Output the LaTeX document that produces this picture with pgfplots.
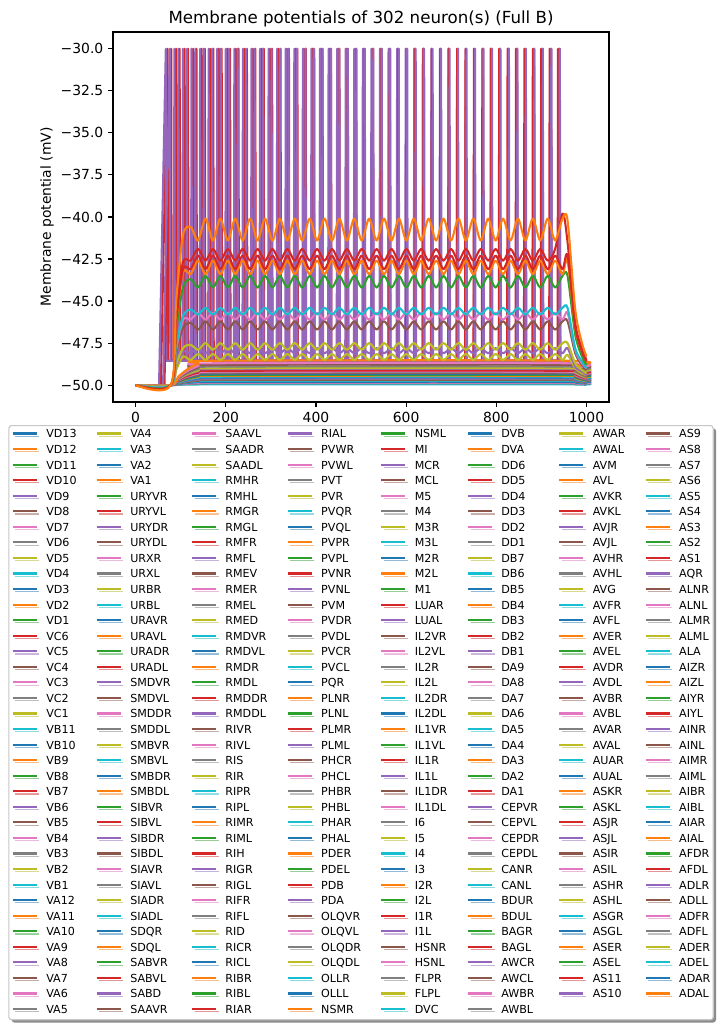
\documentclass[border=0pt]{standalone}
\usepackage{fontspec}
\setmainfont{DejaVu Sans}
\usepackage{pgfplots}
\pgfplotsset{compat=1.18}
\usepackage{pgfplotstable}
\usetikzlibrary{shadows}
\definecolor{tab0}{HTML}{1F77B4}
\definecolor{tab1}{HTML}{FF7F0E}
\definecolor{tab2}{HTML}{2CA02C}
\definecolor{tab3}{HTML}{D62728}
\definecolor{tab4}{HTML}{9467BD}
\definecolor{tab5}{HTML}{8C564B}
\definecolor{tab6}{HTML}{E377C2}
\definecolor{tab7}{HTML}{7F7F7F}
\definecolor{tab8}{HTML}{BCBD22}
\definecolor{tab9}{HTML}{17BECF}

% oscillating traces (peaks / troughs)
\pgfplotstableread{
t o1 r1 r2 o2 g1 c1 p1 b1 y1 u1 y2
0 -50 -50 -50 -50 -50 -50 -50 -50 -50 -50 -50
78 -50 -50 -50 -50 -50 -50 -50 -50 -50 -50 -50
90 -45.0 -46.0 -46.2 -46.3 -46.8 -47.7 -47.9 -48.1 -48.8 -48.9 -49.1
105 -41.1 -42.7 -43.1 -43.3 -44.2 -45.9 -46.1 -46.6 -47.8 -48.0 -48.3
122 -40.6 -42.6 -43.1 -43.4 -43.7 -45.5 -46.1 -46.3 -47.6 -48.1 -48.5
138.5 -41.4 -41.9 -42.3 -42.6 -44.2 -45.8 -45.7 -46.7 -47.9 -47.8 -48.15
155 -40.1 -42.6 -43.1 -43.4 -43.5 -45.4 -46.1 -46.2 -47.5 -48.1 -48.5
171.5 -41.4 -41.9 -42.3 -42.6 -44.2 -45.8 -45.7 -46.7 -47.9 -47.8 -48.15
188 -40.1 -42.6 -43.1 -43.4 -43.5 -45.4 -46.1 -46.2 -47.5 -48.1 -48.5
204.5 -41.4 -41.9 -42.3 -42.6 -44.2 -45.8 -45.7 -46.7 -47.9 -47.8 -48.15
221 -40.1 -42.6 -43.1 -43.4 -43.5 -45.4 -46.1 -46.2 -47.5 -48.1 -48.5
237.5 -41.4 -41.9 -42.3 -42.6 -44.2 -45.8 -45.7 -46.7 -47.9 -47.8 -48.15
254 -40.1 -42.6 -43.1 -43.4 -43.5 -45.4 -46.1 -46.2 -47.5 -48.1 -48.5
270.5 -41.4 -41.9 -42.3 -42.6 -44.2 -45.8 -45.7 -46.7 -47.9 -47.8 -48.15
287 -40.1 -42.6 -43.1 -43.4 -43.5 -45.4 -46.1 -46.2 -47.5 -48.1 -48.5
303.5 -41.4 -41.9 -42.3 -42.6 -44.2 -45.8 -45.7 -46.7 -47.9 -47.8 -48.15
320 -40.1 -42.6 -43.1 -43.4 -43.5 -45.4 -46.1 -46.2 -47.5 -48.1 -48.5
336.5 -41.4 -41.9 -42.3 -42.6 -44.2 -45.8 -45.7 -46.7 -47.9 -47.8 -48.15
353 -40.1 -42.6 -43.1 -43.4 -43.5 -45.4 -46.1 -46.2 -47.5 -48.1 -48.5
369.5 -41.4 -41.9 -42.3 -42.6 -44.2 -45.8 -45.7 -46.7 -47.9 -47.8 -48.15
386 -40.1 -42.6 -43.1 -43.4 -43.5 -45.4 -46.1 -46.2 -47.5 -48.1 -48.5
402.5 -41.4 -41.9 -42.3 -42.6 -44.2 -45.8 -45.7 -46.7 -47.9 -47.8 -48.15
419 -40.1 -42.6 -43.1 -43.4 -43.5 -45.4 -46.1 -46.2 -47.5 -48.1 -48.5
435.5 -41.4 -41.9 -42.3 -42.6 -44.2 -45.8 -45.7 -46.7 -47.9 -47.8 -48.15
452 -40.1 -42.6 -43.1 -43.4 -43.5 -45.4 -46.1 -46.2 -47.5 -48.1 -48.5
468.5 -41.4 -41.9 -42.3 -42.6 -44.2 -45.8 -45.7 -46.7 -47.9 -47.8 -48.15
485 -40.1 -42.6 -43.1 -43.4 -43.5 -45.4 -46.1 -46.2 -47.5 -48.1 -48.5
501.5 -41.4 -41.9 -42.3 -42.6 -44.2 -45.8 -45.7 -46.7 -47.9 -47.8 -48.15
518 -40.1 -42.6 -43.1 -43.4 -43.5 -45.4 -46.1 -46.2 -47.5 -48.1 -48.5
534.5 -41.4 -41.9 -42.3 -42.6 -44.2 -45.8 -45.7 -46.7 -47.9 -47.8 -48.15
551 -40.1 -42.6 -43.1 -43.4 -43.5 -45.4 -46.1 -46.2 -47.5 -48.1 -48.5
567.5 -41.4 -41.9 -42.3 -42.6 -44.2 -45.8 -45.7 -46.7 -47.9 -47.8 -48.15
584 -40.1 -42.6 -43.1 -43.4 -43.5 -45.4 -46.1 -46.2 -47.5 -48.1 -48.5
600.5 -41.4 -41.9 -42.3 -42.6 -44.2 -45.8 -45.7 -46.7 -47.9 -47.8 -48.15
617 -40.1 -42.6 -43.1 -43.4 -43.5 -45.4 -46.1 -46.2 -47.5 -48.1 -48.5
633.5 -41.4 -41.9 -42.3 -42.6 -44.2 -45.8 -45.7 -46.7 -47.9 -47.8 -48.15
650 -40.1 -42.6 -43.1 -43.4 -43.5 -45.4 -46.1 -46.2 -47.5 -48.1 -48.5
666.5 -41.4 -41.9 -42.3 -42.6 -44.2 -45.8 -45.7 -46.7 -47.9 -47.8 -48.15
683 -40.1 -42.6 -43.1 -43.4 -43.5 -45.4 -46.1 -46.2 -47.5 -48.1 -48.5
699.5 -41.4 -41.9 -42.3 -42.6 -44.2 -45.8 -45.7 -46.7 -47.9 -47.8 -48.15
716 -40.1 -42.6 -43.1 -43.4 -43.5 -45.4 -46.1 -46.2 -47.5 -48.1 -48.5
732.5 -41.4 -41.9 -42.3 -42.6 -44.2 -45.8 -45.7 -46.7 -47.9 -47.8 -48.15
749 -40.1 -42.6 -43.1 -43.4 -43.5 -45.4 -46.1 -46.2 -47.5 -48.1 -48.5
765.5 -41.4 -41.9 -42.3 -42.6 -44.2 -45.8 -45.7 -46.7 -47.9 -47.8 -48.15
782 -40.1 -42.6 -43.1 -43.4 -43.5 -45.4 -46.1 -46.2 -47.5 -48.1 -48.5
798.5 -41.4 -41.9 -42.3 -42.6 -44.2 -45.8 -45.7 -46.7 -47.9 -47.8 -48.15
815 -40.1 -42.6 -43.1 -43.4 -43.5 -45.4 -46.1 -46.2 -47.5 -48.1 -48.5
831.5 -41.4 -41.9 -42.3 -42.6 -44.2 -45.8 -45.7 -46.7 -47.9 -47.8 -48.15
848 -40.1 -42.6 -43.1 -43.4 -43.5 -45.4 -46.1 -46.2 -47.5 -48.1 -48.5
864.5 -41.4 -41.9 -42.3 -42.6 -44.2 -45.8 -45.7 -46.7 -47.9 -47.8 -48.15
881 -40.1 -42.6 -43.1 -43.4 -43.5 -45.4 -46.1 -46.2 -47.5 -48.1 -48.5
897.5 -41.4 -41.9 -42.3 -42.6 -44.2 -45.8 -45.7 -46.7 -47.9 -47.8 -48.15
914 -40.1 -42.6 -43.1 -43.4 -43.5 -45.4 -46.1 -46.2 -47.5 -48.1 -48.5
930.5 -41.4 -41.9 -42.3 -42.6 -44.2 -45.8 -45.7 -46.7 -47.9 -47.8 -48.15
947 -40.1 -39.8 -43.1 -43.4 -43.5 -45.4 -46.1 -46.2 -47.5 -48.1 -48.5
958 -40.2 -41.5 -42.3 -42.6 -43.5 -45.4 -45.7 -46.2 -47.5 -47.8 -48.2
975 -45.5 -46.3 -46.5 -46.6 -47.0 -47.8 -47.9 -48.1 -48.7 -48.9 -49.0
990 -47.5 -47.8 -48.0 -48.0 -48.3 -48.6 -48.7 -48.8 -49.1 -49.2 -49.3
1000 -48.3 -48.5 -48.6 -48.6 -48.8 -49.0 -49.0 -49.1 -49.3 -49.4 -49.4
}\osc

% slowly rising, flat traces
\pgfplotstableread{
t f1 f2 f3 f4 f5 f6 f7 f8 f9 f10 f11 f12 f13 f14 f15 f16 f17 f18 f19 f20 f21 f22 f23
0 -50 -50 -50 -50 -50 -50 -50 -50 -50 -50 -50 -50 -50 -50 -50 -50 -50 -50 -50 -50 -50 -50 -50
78 -50 -50 -50 -50 -50 -50 -50 -50 -50 -50 -50 -50 -50 -50 -50 -50 -50 -50 -50 -50 -50 -50 -50
95 -49.49 -49.55 -49.58 -49.62 -49.65 -49.67 -49.70 -49.72 -49.74 -49.76 -49.77 -49.79 -49.81 -49.83 -49.84 -49.86 -49.88 -49.90 -49.91 -49.93 -49.95 -49.97 -49.98
115 -49.06 -49.16 -49.22 -49.29 -49.35 -49.38 -49.45 -49.48 -49.51 -49.55 -49.58 -49.61 -49.64 -49.68 -49.71 -49.74 -49.77 -49.81 -49.84 -49.87 -49.90 -49.94 -49.97
140 -48.72 -48.86 -48.94 -49.03 -49.12 -49.16 -49.25 -49.30 -49.34 -49.38 -49.43 -49.47 -49.52 -49.56 -49.60 -49.65 -49.69 -49.74 -49.78 -49.82 -49.87 -49.91 -49.96
175 -48.55 -48.7 -48.8 -48.9 -49.0 -49.05 -49.15 -49.2 -49.25 -49.3 -49.35 -49.4 -49.45 -49.5 -49.55 -49.6 -49.65 -49.7 -49.75 -49.8 -49.85 -49.9 -49.95
955 -48.55 -48.7 -48.8 -48.9 -49.0 -49.05 -49.15 -49.2 -49.25 -49.3 -49.35 -49.4 -49.45 -49.5 -49.55 -49.6 -49.65 -49.7 -49.75 -49.8 -49.85 -49.9 -49.95
975 -48.91 -49.03 -49.10 -49.18 -49.25 -49.29 -49.36 -49.40 -49.44 -49.48 -49.51 -49.55 -49.59 -49.63 -49.66 -49.70 -49.74 -49.78 -49.81 -49.85 -49.89 -49.93 -49.96
990 -49.20 -49.29 -49.34 -49.40 -49.45 -49.48 -49.53 -49.56 -49.59 -49.62 -49.64 -49.67 -49.70 -49.73 -49.75 -49.78 -49.81 -49.84 -49.86 -49.89 -49.92 -49.95 -49.97
1000 -49.35 -49.42 -49.46 -49.51 -49.55 -49.57 -49.62 -49.64 -49.66 -49.69 -49.71 -49.73 -49.75 -49.78 -49.80 -49.82 -49.84 -49.87 -49.89 -49.91 -49.93 -49.96 -49.98
}\flat

\newcommand{\LE}[2]{\pgfmathtruncatemacro{\ci}{mod(#1,10)}%
  \edef\tmp{\noexpand\addlegendimage{tab\ci}}\tmp\addlegendentry{#2}}
\newcommand{\Lrow}[9]{\LE{#1}{#2}\LE{#1+38}{#3}\LE{#1+76}{#4}\LE{#1+114}{#5}%
  \LE{#1+152}{#6}\LE{#1+190}{#7}\LE{#1+228}{#8}\LE{#1+265}{#9}}
\newcommand{\Lsix}[7]{\LE{#1}{#2}\LE{#1+38}{#3}\LE{#1+76}{#4}\LE{#1+114}{#5}%
  \LE{#1+152}{#6}\LE{#1+190}{#7}}

\pgfplotsset{dp/.style={forget plot, line width=1.5pt, line join=round}}

\begin{document}
\begin{tikzpicture}
\begin{axis}[
  scale only axis, width=357.1pt, height=266.4pt,
  xmin=-50, xmax=1050, ymin=-51, ymax=-29,
  xtick={0,200,400,600,800,1000},
  xticklabels={0,200,400,600,800,1000},
  ytick={-50,-47.5,-45,-42.5,-40,-37.5,-35,-32.5,-30},
  yticklabels={−50.0,−47.5,−45.0,−42.5,−40.0,−37.5,−35.0,−32.5,−30.0},
  tick pos=left, tick align=outside, major tick length=3.5pt,
  every tick/.style={black, line width=0.8pt},
  axis line style={line width=0.8pt},
  tick label style={font=\fontsize{10}{12}\selectfont},
  title={Membrane potentials of 302 neuron(s) (Full B)},
  every axis title/.style={at={(0.5,1)}, anchor=base, yshift=5.8pt, font=\fontsize{12}{14.4}\selectfont},
  ylabel={Membrane potential (mV)},
  every axis y label/.style={at={(axis description cs:-0.133,0.5)}, rotate=90, anchor=center, font=\fontsize{10}{12}\selectfont},
  legend columns=8,
  legend cell align=left,
  legend image code/.code={\draw[#1, line width=1.5pt] (0pt,1pt) -- (17.3pt,1pt); \path (23.8pt,0pt);},
  legend style={at={(0.5,-0.0623)}, anchor=north, draw=black!22, line width=0.8pt, rounded corners=2pt, fill=white,
    drop shadow={shadow xshift=2pt, shadow yshift=-2pt, fill=black, opacity=0.45},
    font=\fontsize{8}{9.6}\selectfont, inner xsep=2pt, inner ysep=2.9pt, row sep=3.6pt,
    nodes={inner sep=0pt, text height=6pt, text depth=1.6pt},
    /tikz/every even column/.append style={column sep=13.7pt}},
]
% spiking neurons
\addplot[dp, tab3] coordinates {(0,-50)(56,-50)(71,-30)(72,-48.55)
(88.9,-48.55)(89.9,-30)(90.9,-48.55) (107.8,-48.55)(108.8,-30)(109.8,-48.55) (126.7,-48.55)(127.7,-30)(128.7,-48.55)
(145.6,-48.55)(146.6,-30)(147.6,-48.55) (164.5,-48.55)(165.5,-30)(166.5,-48.55) (183.4,-48.55)(184.4,-30)(185.4,-48.55)
(202.3,-48.55)(203.3,-30)(204.3,-48.55) (221.2,-48.55)(222.2,-30)(223.2,-48.55) (240.1,-48.55)(241.1,-30)(242.1,-48.55)
(259,-48.55)(260,-30)(261,-48.55) (277.9,-48.55)(278.9,-30)(279.9,-48.55) (296.8,-48.55)(297.8,-30)(298.8,-48.55)
(315.7,-48.55)(316.7,-30)(317.7,-48.55) (334.6,-48.55)(335.6,-30)(336.6,-48.55) (353.5,-48.55)(354.5,-30)(355.5,-48.55)
(372.4,-48.55)(373.4,-30)(374.4,-48.55) (391.3,-48.55)(392.3,-30)(393.3,-48.55) (410.2,-48.55)(411.2,-30)(412.2,-48.55)
(429.1,-48.55)(430.1,-30)(431.1,-48.55) (448,-48.55)(449,-30)(450,-48.55) (466.9,-48.55)(467.9,-30)(468.9,-48.55)
(485.8,-48.55)(486.8,-30)(487.8,-48.55) (504.7,-48.55)(505.7,-30)(506.7,-48.55) (523.6,-48.55)(524.6,-30)(525.6,-48.55)
(542.5,-48.55)(543.5,-30)(544.5,-48.55) (561.4,-48.55)(562.4,-30)(563.4,-48.55) (580.3,-48.55)(581.3,-30)(582.3,-48.55)
(599.2,-48.55)(600.2,-30)(601.2,-48.55) (618.1,-48.55)(619.1,-30)(620.1,-48.55) (637,-48.55)(638,-30)(639,-48.55)
(655.9,-48.55)(656.9,-30)(657.9,-48.55) (674.8,-48.55)(675.8,-30)(676.8,-48.55) (693.7,-48.55)(694.7,-30)(695.7,-48.55)
(712.6,-48.55)(713.6,-30)(714.6,-48.55) (731.5,-48.55)(732.5,-30)(733.5,-48.55) (750.4,-48.55)(751.4,-30)(752.4,-48.55)
(769.3,-48.55)(770.3,-30)(771.3,-48.55) (788.2,-48.55)(789.2,-30)(790.2,-48.55) (807.1,-48.55)(808.1,-30)(809.1,-48.55)
(826,-48.55)(827,-30)(828,-48.55) (844.9,-48.55)(845.9,-30)(846.9,-48.55) (863.8,-48.55)(864.8,-30)(865.8,-48.55)
(882.7,-48.55)(883.7,-30)(884.7,-48.55) (901.6,-48.55)(902.6,-30)(903.6,-48.55) (920.5,-48.55)(921.5,-30)(922.5,-48.55)
(939.4,-48.55)(940.4,-30)(941.4,-48.55) (952,-48.6)(1000,-49.0)};
\addplot[dp, tab4] coordinates {(0,-50)(52,-50)(67,-30)(68,-48.55)
(85,-48.55)(86,-30)(87,-48.55) (104,-48.55)(105,-30)(106,-48.55) (123,-48.55)(124,-30)(125,-48.55)
(142,-48.55)(143,-30)(144,-48.55) (161,-48.55)(162,-30)(163,-48.55) (180,-48.55)(181,-30)(182,-48.55)
(199,-48.55)(200,-30)(201,-48.55) (218,-48.55)(219,-30)(220,-48.55) (237,-48.55)(238,-30)(239,-48.55)
(256,-48.55)(257,-30)(258,-48.55) (275,-48.55)(276,-30)(277,-48.55) (294,-48.55)(295,-30)(296,-48.55)
(313,-48.55)(314,-30)(315,-48.55) (332,-48.55)(333,-30)(334,-48.55) (351,-48.55)(352,-30)(353,-48.55)
(370,-48.55)(371,-30)(372,-48.55) (389,-48.55)(390,-30)(391,-48.55) (408,-48.55)(409,-30)(410,-48.55)
(427,-48.55)(428,-30)(429,-48.55) (446,-48.55)(447,-30)(448,-48.55) (465,-48.55)(466,-30)(467,-48.55)
(484,-48.55)(485,-30)(486,-48.55) (503,-48.55)(504,-30)(505,-48.55) (522,-48.55)(523,-30)(524,-48.55)
(541,-48.55)(542,-30)(543,-48.55) (560,-48.55)(561,-30)(562,-48.55) (579,-48.55)(580,-30)(581,-48.55)
(598,-48.55)(599,-30)(600,-48.55) (617,-48.55)(618,-30)(619,-48.55) (636,-48.55)(637,-30)(638,-48.55)
(655,-48.55)(656,-30)(657,-48.55) (674,-48.55)(675,-30)(676,-48.55) (693,-48.55)(694,-30)(695,-48.55)
(712,-48.55)(713,-30)(714,-48.55) (731,-48.55)(732,-30)(733,-48.55) (750,-48.55)(751,-30)(752,-48.55)
(769,-48.55)(770,-30)(771,-48.55) (788,-48.55)(789,-30)(790,-48.55) (807,-48.55)(808,-30)(809,-48.55)
(826,-48.55)(827,-30)(828,-48.55) (845,-48.55)(846,-30)(847,-48.55) (864,-48.55)(865,-30)(866,-48.55)
(883,-48.55)(884,-30)(885,-48.55) (902,-48.55)(903,-30)(904,-48.55) (921,-48.55)(922,-30)(923,-48.55)
(940,-48.55)(941,-30)(942,-48.55) (960,-48.6)(1000,-49.2)};
\addplot[dp, tab3] coordinates {(0,-50)(64,-50)(79,-30)(80,-48.55)
(96.7,-48.55)(97.7,-30)(98.7,-48.55) (115.3,-48.55)(116.3,-30)(117.3,-48.55) (134,-48.55)(135,-30)(136,-48.55)
(152.6,-48.55)(153.6,-30)(154.6,-48.55) (171.3,-48.55)(172.3,-30)(173.3,-48.55) (189.9,-48.55)(190.9,-30)(191.9,-48.55)
(208.6,-48.55)(209.6,-30)(210.6,-48.55) (227.2,-48.55)(228.2,-30)(229.2,-48.55) (245.9,-48.55)(246.9,-30)(247.9,-48.55)
(264.5,-48.55)(265.5,-30)(266.5,-48.55) (283.2,-48.55)(284.2,-30)(285.2,-48.55) (301.8,-48.55)(302.8,-30)(303.8,-48.55)
(320.5,-48.55)(321.5,-30)(322.5,-48.55) (339.1,-48.55)(340.1,-30)(341.1,-48.55) (357.8,-48.55)(358.8,-30)(359.8,-48.55)
(376.4,-48.55)(377.4,-30)(378.4,-48.55) (395.1,-48.55)(396.1,-30)(397.1,-48.55) (413.7,-48.55)(414.7,-30)(415.7,-48.55)
(432.4,-48.55)(433.4,-30)(434.4,-48.55) (451,-48.55)(452,-30)(453,-48.55) (469.7,-48.55)(470.7,-30)(471.7,-48.55)
(488.3,-48.55)(489.3,-30)(490.3,-48.55) (507,-48.55)(508,-30)(509,-48.55) (525.6,-48.55)(526.6,-30)(527.6,-48.55)
(544.3,-48.55)(545.3,-30)(546.3,-48.55) (562.9,-48.55)(563.9,-30)(564.9,-48.55) (581.6,-48.55)(582.6,-30)(583.6,-48.55)
(600.2,-48.55)(601.2,-30)(602.2,-48.55) (618.9,-48.55)(619.9,-30)(620.9,-48.55) (637.5,-48.55)(638.5,-30)(639.5,-48.55)
(656.2,-48.55)(657.2,-30)(658.2,-48.55) (674.8,-48.55)(675.8,-30)(676.8,-48.55) (693.5,-48.55)(694.5,-30)(695.5,-48.55)
(712.1,-48.55)(713.1,-30)(714.1,-48.55) (730.8,-48.55)(731.8,-30)(732.8,-48.55) (749.4,-48.55)(750.4,-30)(751.4,-48.55)
(768.1,-48.55)(769.1,-30)(770.1,-48.55) (786.7,-48.55)(787.7,-30)(788.7,-48.55) (805.4,-48.55)(806.4,-30)(807.4,-48.55)
(824,-48.55)(825,-30)(826,-48.55) (842.7,-48.55)(843.7,-30)(844.7,-48.55) (861.3,-48.55)(862.3,-30)(863.3,-48.55)
(880,-48.55)(881,-30)(882,-48.55) (898.6,-48.55)(899.6,-30)(900.6,-48.55) (917.3,-48.55)(918.3,-30)(919.3,-48.55)
(935.9,-48.55)(936.9,-30)(937.9,-48.55) (950,-48.6)(1000,-49.1)};
\addplot[dp, tab4] coordinates {(0,-50)(61,-50)(76,-30)(77,-48.55)
(93.8,-48.55)(94.8,-30)(95.8,-48.55) (112.6,-48.55)(113.6,-30)(114.6,-48.55) (131.4,-48.55)(132.4,-30)(133.4,-48.55)
(150.2,-48.55)(151.2,-30)(152.2,-48.55) (169,-48.55)(170,-30)(171,-48.55) (187.8,-48.55)(188.8,-30)(189.8,-48.55)
(206.6,-48.55)(207.6,-30)(208.6,-48.55) (225.4,-48.55)(226.4,-30)(227.4,-48.55) (244.2,-48.55)(245.2,-30)(246.2,-48.55)
(263,-48.55)(264,-30)(265,-48.55) (281.8,-48.55)(282.8,-30)(283.8,-48.55) (300.6,-48.55)(301.6,-30)(302.6,-48.55)
(319.4,-48.55)(320.4,-30)(321.4,-48.55) (338.2,-48.55)(339.2,-30)(340.2,-48.55) (357,-48.55)(358,-30)(359,-48.55)
(375.8,-48.55)(376.8,-30)(377.8,-48.55) (394.6,-48.55)(395.6,-30)(396.6,-48.55) (413.4,-48.55)(414.4,-30)(415.4,-48.55)
(432.2,-48.55)(433.2,-30)(434.2,-48.55) (451,-48.55)(452,-30)(453,-48.55) (469.8,-48.55)(470.8,-30)(471.8,-48.55)
(488.6,-48.55)(489.6,-30)(490.6,-48.55) (507.4,-48.55)(508.4,-30)(509.4,-48.55) (526.2,-48.55)(527.2,-30)(528.2,-48.55)
(545,-48.55)(546,-30)(547,-48.55) (563.8,-48.55)(564.8,-30)(565.8,-48.55) (582.6,-48.55)(583.6,-30)(584.6,-48.55)
(601.4,-48.55)(602.4,-30)(603.4,-48.55) (620.2,-48.55)(621.2,-30)(622.2,-48.55) (639,-48.55)(640,-30)(641,-48.55)
(657.8,-48.55)(658.8,-30)(659.8,-48.55) (676.6,-48.55)(677.6,-30)(678.6,-48.55) (695.4,-48.55)(696.4,-30)(697.4,-48.55)
(714.2,-48.55)(715.2,-30)(716.2,-48.55) (733,-48.55)(734,-30)(735,-48.55) (751.8,-48.55)(752.8,-30)(753.8,-48.55)
(770.6,-48.55)(771.6,-30)(772.6,-48.55) (789.4,-48.55)(790.4,-30)(791.4,-48.55) (808.2,-48.55)(809.2,-30)(810.2,-48.55)
(827,-48.55)(828,-30)(829,-48.55) (845.8,-48.55)(846.8,-30)(847.8,-48.55) (864.6,-48.55)(865.6,-30)(866.6,-48.55)
(883.4,-48.55)(884.4,-30)(885.4,-48.55) (902.2,-48.55)(903.2,-30)(904.2,-48.55) (921,-48.55)(922,-30)(923,-48.55)
(939.8,-48.55)(940.8,-30)(941.8,-48.55) (962,-48.7)(1000,-49.3)};
% flat traces
\addplot[dp, tab9, smooth] table[x=t, y=f23] {\flat};
\addplot[dp, tab7, smooth] table[x=t, y=f22] {\flat};
\addplot[dp, tab6, smooth] table[x=t, y=f21] {\flat};
\addplot[dp, tab0, smooth] table[x=t, y=f20] {\flat};
\addplot[dp, tab9, smooth] table[x=t, y=f19] {\flat};
\addplot[dp, tab5, smooth] table[x=t, y=f18] {\flat};
\addplot[dp, tab7, smooth] table[x=t, y=f17] {\flat};
\addplot[dp, tab4, smooth] table[x=t, y=f16] {\flat};
\addplot[dp, tab0, smooth] table[x=t, y=f15] {\flat};
\addplot[dp, tab9, smooth] table[x=t, y=f14] {\flat};
\addplot[dp, tab1, smooth] table[x=t, y=f13] {\flat};
\addplot[dp, tab2, smooth] table[x=t, y=f12] {\flat};
\addplot[dp, tab0, smooth] table[x=t, y=f11] {\flat};
\addplot[dp, tab5, smooth] table[x=t, y=f10] {\flat};
\addplot[dp, tab7, smooth] table[x=t, y=f9] {\flat};
\addplot[dp, tab6, smooth] table[x=t, y=f8] {\flat};
\addplot[dp, tab3, smooth] table[x=t, y=f7] {\flat};
\addplot[dp, tab4, smooth] table[x=t, y=f6] {\flat};
\addplot[dp, tab8, smooth] table[x=t, y=f5] {\flat};
\addplot[dp, tab7, smooth] table[x=t, y=f4] {\flat};
\addplot[dp, tab5, smooth] table[x=t, y=f3] {\flat};
\addplot[dp, tab6, smooth] table[x=t, y=f2] {\flat};
\addplot[dp, tab1, smooth] table[x=t, y=f1] {\flat};
% oscillating traces
\addplot[dp, tab8, smooth] table[x=t, y=y2] {\osc};
\addplot[dp, tab4, smooth] table[x=t, y=u1] {\osc};
\addplot[dp, tab8, smooth] table[x=t, y=y1] {\osc};
\addplot[dp, tab5, smooth] table[x=t, y=b1] {\osc};
\addplot[dp, tab6, smooth] table[x=t, y=p1] {\osc};
\addplot[dp, tab9, smooth] table[x=t, y=c1] {\osc};
\addplot[dp, tab2, smooth] table[x=t, y=g1] {\osc};
\addplot[dp, tab1, smooth] table[x=t, y=o2] {\osc};
\addplot[dp, tab3, smooth] table[x=t, y=r2] {\osc};
\addplot[dp, tab3, smooth] table[x=t, y=r1] {\osc};
\addplot[dp, tab1, smooth] table[x=t, y=o1] {\osc};
% legend (matplotlib fills columns; pgfplots fills rows)
\Lrow{0}{VD13}{VA4}{SAAVL}{RIAL}{NSML}{DVB}{AWAR}{AS9}
\Lrow{1}{VD12}{VA3}{SAADR}{PVWR}{MI}{DVA}{AWAL}{AS8}
\Lrow{2}{VD11}{VA2}{SAADL}{PVWL}{MCR}{DD6}{AVM}{AS7}
\Lrow{3}{VD10}{VA1}{RMHR}{PVT}{MCL}{DD5}{AVL}{AS6}
\Lrow{4}{VD9}{URYVR}{RMHL}{PVR}{M5}{DD4}{AVKR}{AS5}
\Lrow{5}{VD8}{URYVL}{RMGR}{PVQR}{M4}{DD3}{AVKL}{AS4}
\Lrow{6}{VD7}{URYDR}{RMGL}{PVQL}{M3R}{DD2}{AVJR}{AS3}
\Lrow{7}{VD6}{URYDL}{RMFR}{PVPR}{M3L}{DD1}{AVJL}{AS2}
\Lrow{8}{VD5}{URXR}{RMFL}{PVPL}{M2R}{DB7}{AVHR}{AS1}
\Lrow{9}{VD4}{URXL}{RMEV}{PVNR}{M2L}{DB6}{AVHL}{AQR}
\Lrow{10}{VD3}{URBR}{RMER}{PVNL}{M1}{DB5}{AVG}{ALNR}
\Lrow{11}{VD2}{URBL}{RMEL}{PVM}{LUAR}{DB4}{AVFR}{ALNL}
\Lrow{12}{VD1}{URAVR}{RMED}{PVDR}{LUAL}{DB3}{AVFL}{ALMR}
\Lrow{13}{VC6}{URAVL}{RMDVR}{PVDL}{IL2VR}{DB2}{AVER}{ALML}
\Lrow{14}{VC5}{URADR}{RMDVL}{PVCR}{IL2VL}{DB1}{AVEL}{ALA}
\Lrow{15}{VC4}{URADL}{RMDR}{PVCL}{IL2R}{DA9}{AVDR}{AIZR}
\Lrow{16}{VC3}{SMDVR}{RMDL}{PQR}{IL2L}{DA8}{AVDL}{AIZL}
\Lrow{17}{VC2}{SMDVL}{RMDDR}{PLNR}{IL2DR}{DA7}{AVBR}{AIYR}
\Lrow{18}{VC1}{SMDDR}{RMDDL}{PLNL}{IL2DL}{DA6}{AVBL}{AIYL}
\Lrow{19}{VB11}{SMDDL}{RIVR}{PLMR}{IL1VR}{DA5}{AVAR}{AINR}
\Lrow{20}{VB10}{SMBVR}{RIVL}{PLML}{IL1VL}{DA4}{AVAL}{AINL}
\Lrow{21}{VB9}{SMBVL}{RIS}{PHCR}{IL1R}{DA3}{AUAR}{AIMR}
\Lrow{22}{VB8}{SMBDR}{RIR}{PHCL}{IL1L}{DA2}{AUAL}{AIML}
\Lrow{23}{VB7}{SMBDL}{RIPR}{PHBR}{IL1DR}{DA1}{ASKR}{AIBR}
\Lrow{24}{VB6}{SIBVR}{RIPL}{PHBL}{IL1DL}{CEPVR}{ASKL}{AIBL}
\Lrow{25}{VB5}{SIBVL}{RIMR}{PHAR}{I6}{CEPVL}{ASJR}{AIAR}
\Lrow{26}{VB4}{SIBDR}{RIML}{PHAL}{I5}{CEPDR}{ASJL}{AIAL}
\Lrow{27}{VB3}{SIBDL}{RIH}{PDER}{I4}{CEPDL}{ASIR}{AFDR}
\Lrow{28}{VB2}{SIAVR}{RIGR}{PDEL}{I3}{CANR}{ASIL}{AFDL}
\Lrow{29}{VB1}{SIAVL}{RIGL}{PDB}{I2R}{CANL}{ASHR}{ADLR}
\Lrow{30}{VA12}{SIADR}{RIFR}{PDA}{I2L}{BDUR}{ASHL}{ADLL}
\Lrow{31}{VA11}{SIADL}{RIFL}{OLQVR}{I1R}{BDUL}{ASGR}{ADFR}
\Lrow{32}{VA10}{SDQR}{RID}{OLQVL}{I1L}{BAGR}{ASGL}{ADFL}
\Lrow{33}{VA9}{SDQL}{RICR}{OLQDR}{HSNR}{BAGL}{ASER}{ADER}
\Lrow{34}{VA8}{SABVR}{RICL}{OLQDL}{HSNL}{AWCR}{ASEL}{ADEL}
\Lrow{35}{VA7}{SABVL}{RIBR}{OLLR}{FLPR}{AWCL}{AS11}{ADAR}
\Lrow{36}{VA6}{SABD}{RIBL}{OLLL}{FLPL}{AWBR}{AS10}{ADAL}
\Lsix{37}{VA5}{SAAVR}{RIAR}{NSMR}{DVC}{AWBL}
\end{axis}
\path (current axis.south west) ++(-81.4pt,-452.2pt) rectangle ++(519.1pt,741.6pt);
\end{tikzpicture}
\end{document}
